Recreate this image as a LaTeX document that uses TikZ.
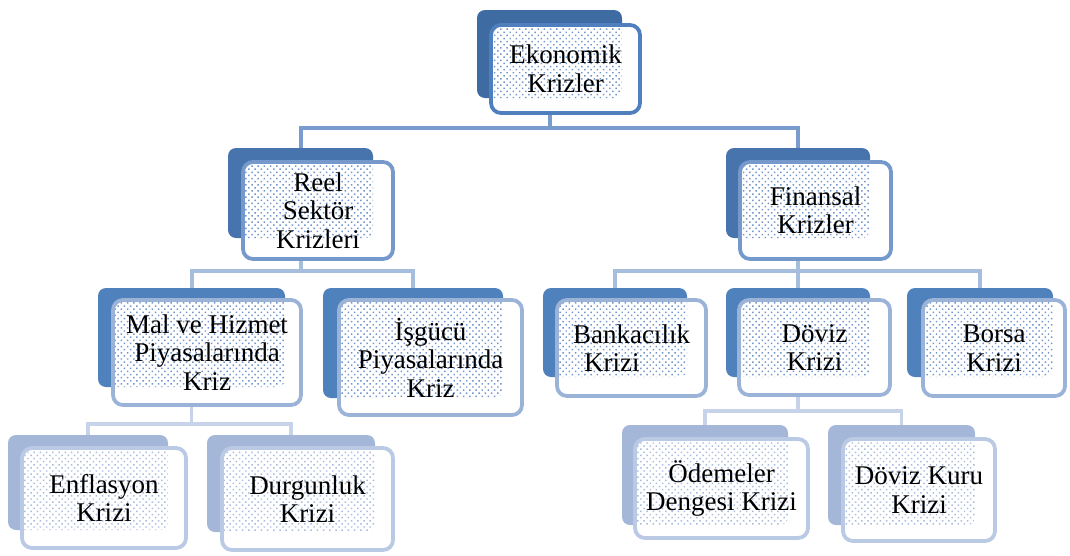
\documentclass[tikz,border=0pt]{standalone}
\usepackage{fontspec}
\setmainfont{Liberation Serif}
\usetikzlibrary{patterns.meta,backgrounds}
\definecolor{czb}{HTML}{3F6BA3}
\definecolor{czf}{HTML}{4F7FBC}
\definecolor{cob}{HTML}{4874AE}
\definecolor{cof}{HTML}{7699CB}
\definecolor{ctb}{HTML}{4F81BD}
\definecolor{ctf}{HTML}{9BB3D7}
\definecolor{chb}{HTML}{A5B7D8}
\definecolor{chf}{HTML}{BBCAE4}
\definecolor{cdotdark}{HTML}{7396CA}
\definecolor{cdotlight}{HTML}{AABCDD}
\definecolor{lnA}{HTML}{7A9CCC}
\definecolor{lnB}{HTML}{A7BDDE}
\definecolor{lnC}{HTML}{C6D3E9}
\begin{document}
\begin{tikzpicture}[x=1pt,y=-1pt,
  backbox/.style={fill=#1, draw=none, rounded corners=8pt, inner sep=0pt, outer sep=0pt},
  frontbox/.style={fill=white, draw=#1, line width=3.8pt, rounded corners=10pt, inner sep=0pt, outer sep=0pt,
    align=center, font=\fontsize{27}{28.5}\selectfont},
  dotfill/.style 2 args={path picture={\fill[rounded corners=8pt, pattern={Dots[distance=4.4pt,radius=1.05pt,angle=45]}, pattern color=#2]
      (#1.north west) rectangle (#1.south east);}},
  linkA/.style={draw=lnA, line width=4pt},
  linkB/.style={draw=lnB, line width=4pt},
  linkC/.style={draw=lnC, line width=3.5pt},
]
\useasboundingbox (0,0) rectangle (1070,555);

% level 0
\node[backbox=czb, minimum width=145pt, minimum height=88pt] (ekoB) at (549.5,54) {};
\node[frontbox=czf, dotfill={ekoB}{cdotdark}, minimum width=149pt, minimum height=88pt] (eko) at (565.5,69) {Ekonomik\\Krizler};

% level 1
\node[backbox=cob, minimum width=145pt, minimum height=90pt] (reelB) at (300.5,193) {};
\node[frontbox=cof, dotfill={reelB}{cdotdark}, minimum width=150pt, minimum height=97pt] (reel) at (318,210.5) {Reel\\Sektör\\Krizleri};

\node[backbox=cob, minimum width=144pt, minimum height=90pt] (finB) at (798,193) {};
\node[frontbox=cof, dotfill={finB}{cdotdark}, minimum width=151pt, minimum height=97pt] (fin) at (815.5,210.5) {Finansal\\Krizler};

% level 2
\node[backbox=ctb, minimum width=187pt, minimum height=99pt] (malB) at (191.5,337.5) {};
\node[frontbox=ctf, dotfill={malB}{cdotdark}, minimum width=188pt, minimum height=105pt] (mal) at (207,352.5) {Mal ve Hizmet\\Piyasalarında\\Kriz};

\node[backbox=ctb, minimum width=180pt, minimum height=110pt] (isgB) at (413,343) {};
\node[frontbox=ctf, dotfill={isgB}{cdotdark}, minimum width=183pt, minimum height=115pt] (isg) at (430.5,357.5) {İşgücü\\Piyasalarında\\Kriz};

\node[backbox=ctb, minimum width=144pt, minimum height=89pt] (bankB) at (615,332.5) {};
\node[frontbox=ctf, dotfill={bankB}{cdotdark}, minimum width=149pt, minimum height=96pt, align=left] (bank) at (631.5,348) {Bankacılık\\\hspace*{11pt}Krizi};

\node[backbox=ctb, minimum width=144pt, minimum height=89pt] (dovB) at (798,332.5) {};
\node[frontbox=ctf, dotfill={dovB}{cdotdark}, minimum width=151pt, minimum height=95pt] (dov) at (814.5,347.5) {Döviz\\Krizi};

\node[backbox=ctb, minimum width=146pt, minimum height=89pt] (borB) at (980,332.5) {};
\node[frontbox=ctf, dotfill={borB}{cdotdark}, minimum width=142pt, minimum height=96pt] (bor) at (994,348) {Borsa\\Krizi};

% level 3
\node[backbox=chb, minimum width=160pt, minimum height=95pt] (enfB) at (88,482.5) {};
\node[frontbox=chf, dotfill={enfB}{cdotlight}, minimum width=164pt, minimum height=100pt] (enf) at (104,498) {Enflasyon\\Krizi};

\node[backbox=chb, minimum width=168pt, minimum height=97pt] (durB) at (291,483.5) {};
\node[frontbox=chf, dotfill={durB}{cdotlight}, minimum width=171pt, minimum height=102pt] (dur) at (307.5,499) {Durgunluk\\Krizi};

\node[backbox=chb, minimum width=166pt, minimum height=100pt] (odeB) at (705,475) {};
\node[frontbox=chf, dotfill={odeB}{cdotlight}, minimum width=173pt, minimum height=99pt] (ode) at (721.5,488.5) {Ödemeler\\Dengesi Krizi};

\node[backbox=chb, minimum width=147pt, minimum height=100pt] (dkB) at (901.5,475) {};
\node[frontbox=chf, dotfill={dkB}{cdotlight}, minimum width=152pt, minimum height=102pt] (dk) at (919,490) {Döviz Kuru\\Krizi};

% connectors
\begin{scope}[on background layer]
\coordinate (j0) at (549.5,128);
\draw[linkA] (ekoB |- eko.south) -- (j0);
\draw[linkA] (reelB.north) |- (j0) -| (finB.north);

\coordinate (j1) at (300.5,271);
\draw[linkB] (reelB |- reel.south) -- (j1);
\draw[linkB] (malB.north) |- (j1) -| (isgB.north);

\coordinate (j2) at (798,271);
\draw[linkB] (finB |- fin.south) -- (j2);
\draw[linkB] (bankB.north) |- (j2) -| (borB.north);
\draw[linkB] (j2) -- (dovB.north);

\coordinate (j3) at (191.5,424);
\draw[linkC] (malB |- mal.south) -- (j3);
\draw[linkC] (enfB.north) |- (j3) -| (durB.north);

\coordinate (j4) at (798,411);
\draw[linkC] (dovB |- dov.south) -- (j4);
\draw[linkC] (odeB.north) |- (j4) -| (dkB.north);
\end{scope}
\end{tikzpicture}
\end{document}
